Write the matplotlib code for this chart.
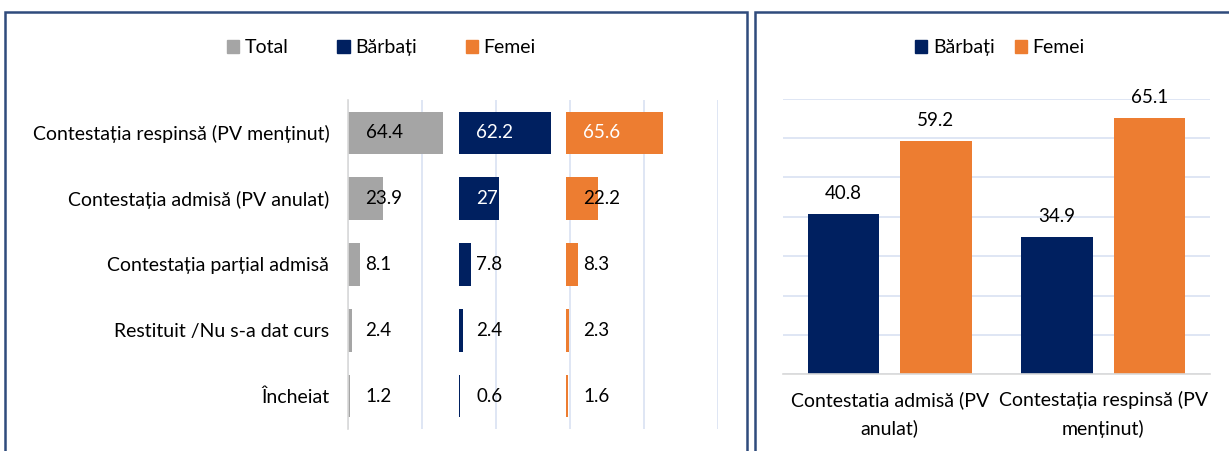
import matplotlib.pyplot as plt
from matplotlib.patches import Rectangle, Patch

plt.rcParams['font.family'] = ['Lato', 'DejaVu Sans']

# left chart data
categories = ['Contestația respinsă (PV menținut)', 'Contestația admisă (PV anulat)',
              'Contestația parțial admisă', 'Restituit /Nu s-a dat curs', 'Încheiat']
total = [64.4, 23.9, 8.1, 2.4, 1.2]
barbati = [62.2, 27, 7.8, 2.4, 0.6]
femei = [65.6, 22.2, 8.3, 2.3, 1.6]

# right chart data
cat2 = ['Contestatia admisă (PV\nanulat)', 'Contestația respinsă (PV\nmenținut)']
barbati2 = [40.8, 34.9]
femei2 = [59.2, 65.1]

GRAY = '#A5A5A5'
NAVY = '#002060'
ORANGE = '#ED7D31'
GRID = '#D9E1F2'
BORDER = '#2F4B7C'
FS = 14

fig = plt.figure(figsize=(12.29, 4.51), dpi=100)

# panel borders
fig.patches.append(Rectangle((5 / 1229, -0.05), 742 / 1229, 1.05 - 12 / 451,
                             transform=fig.transFigure, fill=False, ec=BORDER, lw=1.8))
fig.patches.append(Rectangle((755 / 1229, -0.05), 0.5, 1.05 - 12 / 451,
                             transform=fig.transFigure, fill=False, ec=BORDER, lw=1.8))

# ---- left: three panels on one axis ----
ax = fig.add_axes([0.2832, 0.0488, 0.3010, 0.7295])
offsets = [0, 75, 147]
series = [total, barbati, femei]
colors = [GRAY, NAVY, ORANGE]
y = list(range(len(categories)))
for off, vals, c in zip(offsets, series, colors):
    ax.barh(y, vals, left=off, height=0.65, color=c, zorder=2)
    for i, v in enumerate(vals):
        tc = 'black'
        if c != GRAY and v > 25:
            tc = 'white'
        ax.text(off + 11.8, i, f'{v:g}', va='center', ha='left', fontsize=13.5,
                color=tc, zorder=3)
ax.set_xlim(0, 250)
ax.set_ylim(len(categories) - 0.5, -0.5)
ax.set_xticks([0, 50, 100, 150, 200, 250])
ax.xaxis.grid(True, color=GRID, lw=1.2, zorder=0)
ax.tick_params(axis='x', length=0, labelbottom=False)
ax.tick_params(axis='y', length=0, pad=13.5)
ax.set_yticks(y)
ax.set_yticklabels(categories, fontsize=FS)
for s in ['top', 'right', 'bottom']:
    ax.spines[s].set_visible(False)
ax.spines['left'].set_color('#D9D9D9')
ax.spines['left'].set_linewidth(1.2)

h = [Patch(color=c) for c in colors]
fig.legend(h, ['Total', 'Bărbați', 'Femei'], loc='center', bbox_to_anchor=(0.3104, 0.8936),
           ncol=3, frameon=False, fontsize=FS, handlelength=0.62, handleheight=0.62,
           handletextpad=0.3, columnspacing=2.5)

# ---- right: grouped columns ----
ax2 = fig.add_axes([0.6371, 0.1701, 0.3474, 0.6111])
x = [0, 1]
w = 0.335
ax2.bar([i - 0.216 for i in x], barbati2, width=w, color=NAVY, zorder=2)
ax2.bar([i + 0.216 for i in x], femei2, width=w, color=ORANGE, zorder=2)
for i in x:
    ax2.text(i - 0.216, barbati2[i] + 3.0, f'{barbati2[i]:g}', ha='center', va='bottom', fontsize=13.5)
    ax2.text(i + 0.216, femei2[i] + 3.0, f'{femei2[i]:g}', ha='center', va='bottom', fontsize=13.5)
ax2.set_xlim(-0.5, 1.5)
ax2.set_ylim(0, 70)
ax2.set_yticks(range(0, 71, 10))
ax2.yaxis.grid(True, color=GRID, lw=1.2, zorder=0)
ax2.tick_params(axis='y', length=0, labelleft=False)
ax2.tick_params(axis='x', length=0, pad=12)
ax2.set_xticks(x)
ax2.set_xticklabels(cat2, fontsize=FS, linespacing=1.7)
for s in ['top', 'right', 'left']:
    ax2.spines[s].set_visible(False)
ax2.spines['bottom'].set_color('#D9D9D9')
ax2.spines['bottom'].set_linewidth(1.2)

fig.legend(h[1:], ['Bărbați', 'Femei'], loc='center', bbox_to_anchor=(0.8137, 0.8936),
           ncol=2, frameon=False, fontsize=FS, handlelength=0.62, handleheight=0.62,
           handletextpad=0.3, columnspacing=1.0)

fig.savefig('out.png', dpi=100)
